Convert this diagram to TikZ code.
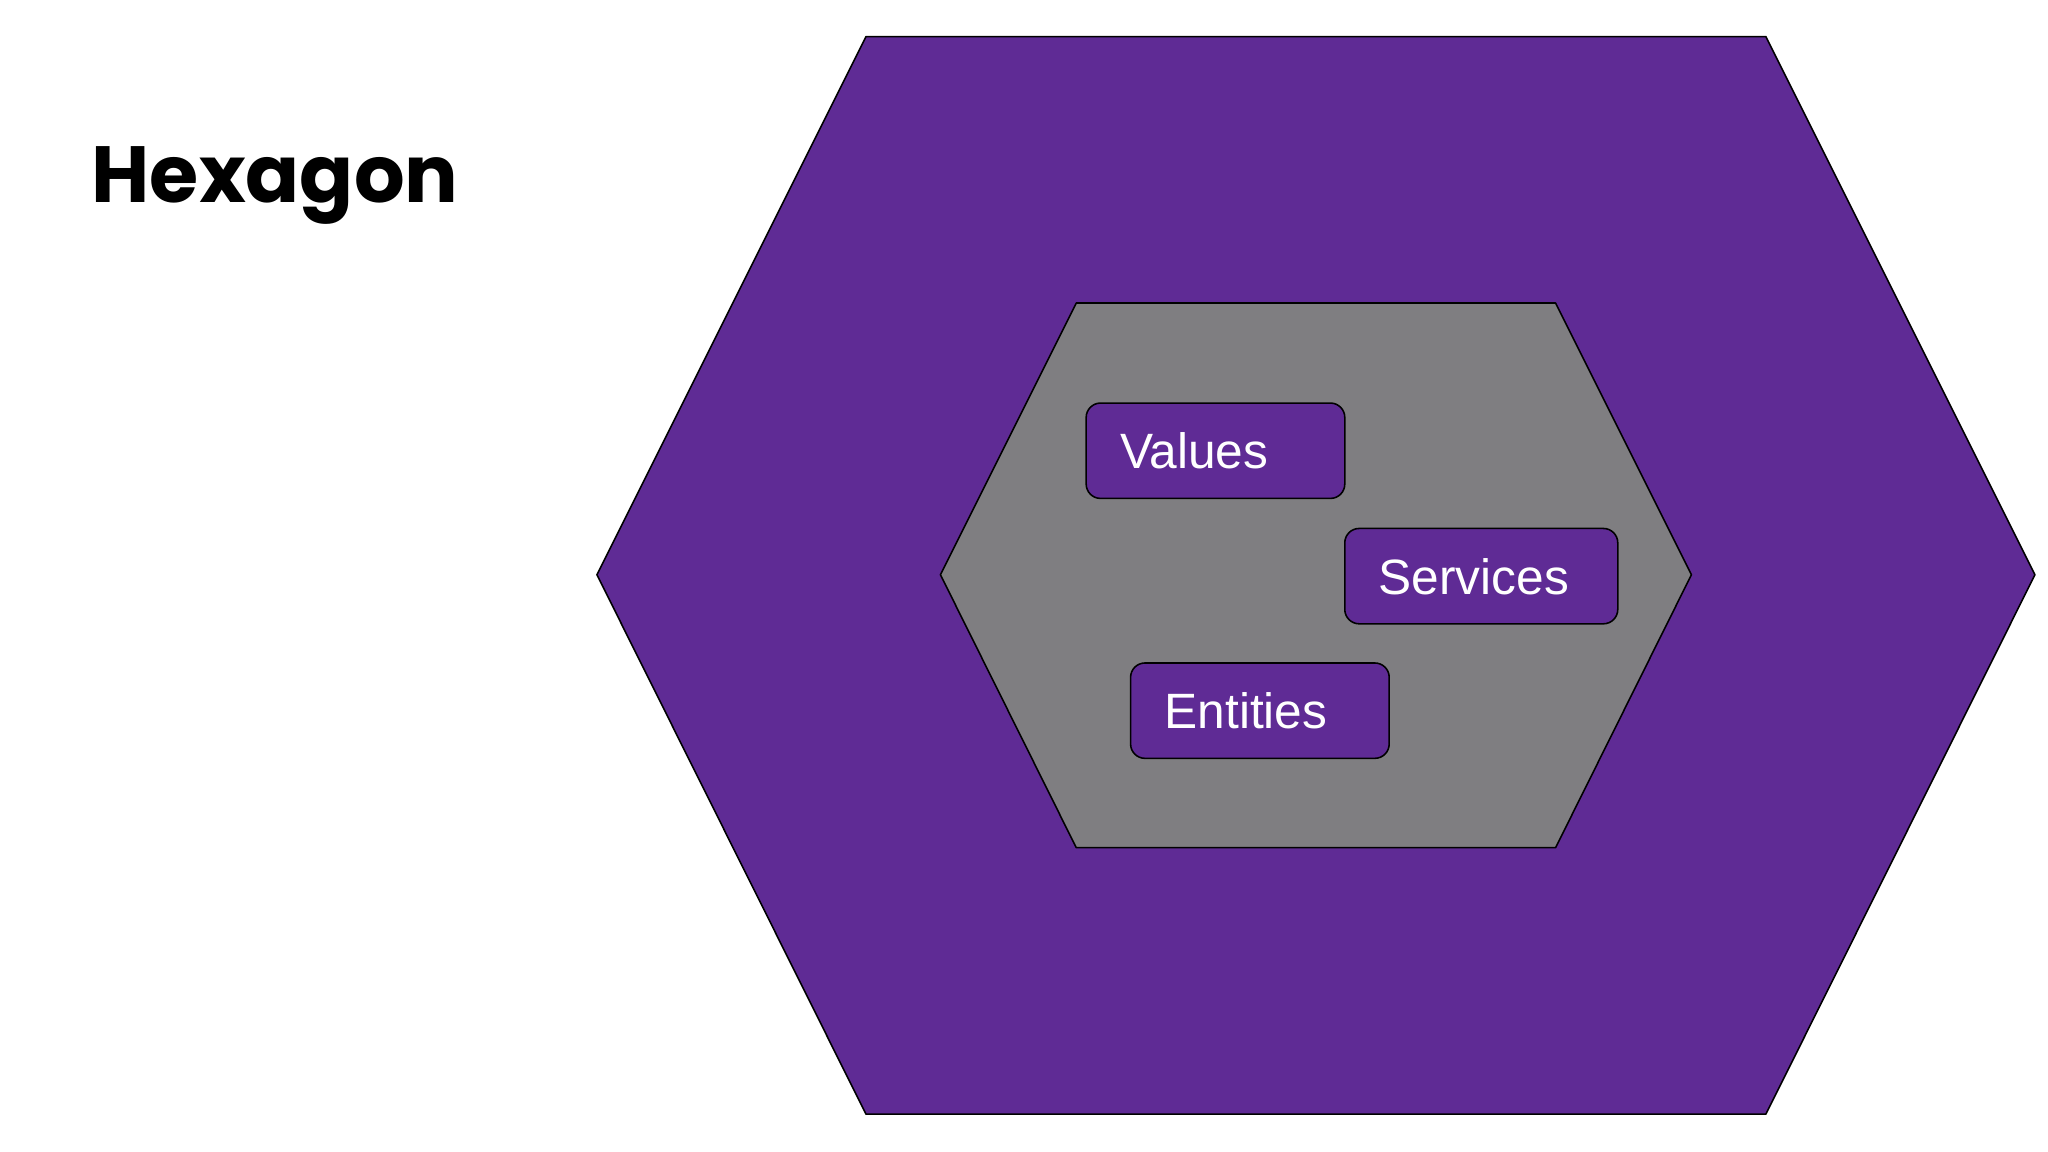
\documentclass[tikz,border=0pt]{standalone}
\usepackage{fontspec}
\setmainfont{Liberation Sans}
\newfontfamily\titlefont{Poppins}
\definecolor{hexpurple}{HTML}{5F2B95}
\definecolor{hexgray}{HTML}{7F7E81}
\begin{document}
\begin{tikzpicture}[x=1pt,y=-1pt,
  hexshape/.style={draw=black,line width=1.2pt,line join=round},
  box/.style={draw=black,line width=1.2pt,fill=hexpurple,rounded corners=11pt,text=white,
    font=\fontsize{38}{44}\selectfont,minimum height=73pt,inner xsep=26pt,anchor=north west,text depth=0pt}]
\useasboundingbox (0,0) rectangle (1568,882);
\draw[hexshape,fill=hexgray!0!hexpurple] (663,28)--(1352,28)--(1558,440)--(1352,853)--(663,853)--(457,440)--cycle;
\draw[hexshape,fill=hexgray] (824,232)--(1191,232)--(1295,440)--(1191,649)--(824,649)--(720,440)--cycle;
\node[box,minimum width=198pt,align=left,text width=146pt] (values) at (831,308) {Values};
\node[box,minimum width=209pt,align=left,text width=157pt] (services) at (1029,404) {Services};
\node[box,minimum width=198pt,align=left,text width=146pt] (entities) at (865,507) {Entities};
\node[font=\titlefont\bfseries\fontsize{61}{70}\selectfont,anchor=base west,inner sep=0pt] (title) at (70,155) {Hexagon};
\end{tikzpicture}
\end{document}
